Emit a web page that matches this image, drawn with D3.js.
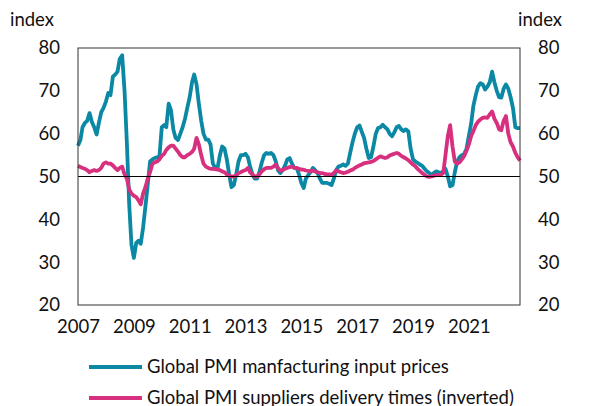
<!DOCTYPE html>
<meta charset="utf-8" />
<script src="https://d3js.org/d3.v7.js"></script>
<style>
	body { margin: 0; background: #fff; }
	text { font-family: Lato, "DejaVu Sans", sans-serif; fill: #111; }
</style>
<div id="chart"></div>
<script>
	// Monthly values, Jan 2007 .. Nov 2022
	const inputPrices = [
		57.2, 58.5, 61.5, 62.5, 63.0, 64.8, 62.8, 61.5, 59.8, 62.5, 65.0, 66.0, // 2007
		67.5, 69.5, 69.0, 73.3, 73.8, 74.5, 77.5, 78.3, 70.0, 58.0, 43.5, 34.0, // 2008
		31.0, 34.5, 35.0, 34.3, 38.0, 43.0, 48.0, 53.5, 54.0, 54.3, 54.5, 54.5, // 2009
		61.5, 62.0, 61.5, 67.0, 65.5, 61.0, 59.0, 58.5, 60.0, 61.5, 63.5, 66.0, // 2010
		68.5, 72.0, 73.8, 71.5, 67.0, 63.0, 60.0, 58.6, 58.6, 57.5, 53.0, 52.0, // 2011
		52.0, 55.0, 57.0, 56.5, 54.0, 50.5, 47.5, 48.0, 50.5, 53.5, 55.0, 55.0, // 2012
		55.3, 54.5, 52.4, 50.5, 49.5, 49.5, 51.0, 53.2, 55.0, 55.5, 55.3, 55.5, // 2013
		55.0, 53.5, 51.5, 50.8, 51.5, 52.5, 54.0, 54.3, 53.0, 52.0, 52.0, 50.5, // 2014
		48.5, 47.3, 49.5, 50.3, 51.0, 52.0, 51.5, 50.8, 49.5, 48.5, 48.5, 48.5, // 2015
		48.3, 48.0, 49.5, 51.5, 52.3, 52.5, 52.8, 52.5, 53.0, 55.5, 58.0, 60.0, // 2016
		61.5, 61.9, 60.5, 59.0, 56.5, 54.3, 54.5, 57.0, 60.0, 61.3, 61.5, 62.1, // 2017
		61.5, 61.0, 60.0, 59.4, 60.3, 61.5, 61.8, 61.0, 60.6, 61.0, 60.5, 56.5, // 2018
		54.0, 53.5, 53.2, 52.8, 52.5, 51.8, 51.2, 50.8, 50.4, 50.8, 51.2, 51.0, // 2019
		50.8, 51.2, 51.8, 50.0, 47.7, 48.0, 51.0, 53.5, 54.5, 55.0, 55.3, 56.5, // 2020
		59.5, 62.5, 66.5, 69.0, 71.0, 71.8, 71.5, 70.3, 71.0, 72.0, 74.5, 72.0, // 2021
		70.0, 68.5, 68.4, 70.5, 71.5, 70.5, 68.5, 66.0, 61.5, 61.3, 61.3        // 2022
	];
	const deliveryTimes = [
		52.5, 52.2, 52.0, 51.8, 51.5, 51.0, 51.3, 51.5, 51.3, 51.5, 52.0, 53.0, // 2007
		53.3, 53.0, 53.0, 52.6, 52.0, 51.5, 52.0, 52.3, 50.5, 49.5, 47.0, 46.0, // 2008
		45.5, 45.2, 44.5, 43.5, 46.0, 47.5, 49.5, 51.0, 53.0, 53.3, 53.5, 54.0, // 2009
		54.8, 55.3, 56.2, 56.8, 57.2, 57.2, 56.5, 55.8, 55.0, 54.5, 54.5, 55.0, // 2010
		55.3, 55.7, 56.5, 59.0, 57.5, 55.0, 53.0, 52.3, 52.0, 51.8, 51.8, 51.7, // 2011
		51.6, 51.5, 51.2, 51.0, 50.5, 50.2, 50.0, 50.0, 50.2, 50.8, 51.0, 51.3, // 2012
		51.5, 52.0, 51.0, 50.5, 50.0, 50.0, 50.5, 51.2, 51.7, 52.0, 52.0, 52.0, // 2013
		52.3, 52.8, 52.0, 51.3, 51.5, 51.8, 52.0, 52.2, 52.3, 52.0, 52.0, 51.8, // 2014
		51.6, 51.6, 51.4, 51.3, 51.2, 51.4, 51.2, 51.0, 50.8, 50.8, 50.6, 50.5, // 2015
		50.5, 50.4, 50.8, 51.4, 51.2, 51.0, 50.8, 50.9, 51.1, 51.4, 51.6, 52.0, // 2016
		52.3, 52.6, 52.8, 53.1, 53.2, 53.3, 53.4, 53.6, 54.0, 54.4, 54.7, 54.5, // 2017
		54.3, 54.5, 54.9, 55.1, 55.3, 55.5, 55.3, 54.8, 54.5, 54.2, 53.8, 53.3, // 2018
		52.8, 52.4, 51.8, 51.3, 50.8, 50.4, 50.0, 49.9, 50.0, 50.2, 50.3, 50.4, // 2019
		50.4, 50.8, 55.0, 59.5, 62.0, 57.0, 53.5, 53.0, 53.3, 54.0, 54.8, 56.0, // 2020
		57.5, 59.5, 60.6, 62.0, 62.8, 63.3, 63.7, 63.8, 63.7, 64.5, 65.2, 63.5, // 2021
		62.5, 61.0, 60.8, 63.0, 64.1, 60.0, 58.0, 57.0, 55.5, 54.5, 53.7        // 2022
	];
	const yTicks = [20, 30, 40, 50, 60, 70, 80];
	const xTickYears = [2007, 2009, 2011, 2013, 2015, 2017, 2019, 2021];
	const seriesNames = [
		"Global PMI manfacturing input prices",
		"Global PMI suppliers delivery times (inverted)"
	];
	const seriesColors = ["#0a88a4", "#d6307f"];

	const W = 592, H = 406;
	const margin = { top: 48, right: 72, bottom: 101, left: 78 };
	const width = W - margin.left - margin.right;
	const height = H - margin.top - margin.bottom;
	const fs = "18.5px";

	const dates = inputPrices.map((d, i) => new Date(2007, i, 1));

	const svg = d3.select("#chart").append("svg")
		.attr("width", W)
		.attr("height", H);

	const g = svg.append("g")
		.attr("transform", "translate(" + margin.left + "," + margin.top + ")");

	const x = d3.scaleTime()
		.domain([dates[0], dates[dates.length - 1]])
		.range([0, width]);
	const y = d3.scaleLinear().domain([20, 80]).range([height, 0]);

	// axes (labels only, no tick lines)
	const yLeft = d3.axisLeft(y).tickValues(yTicks).tickSize(0).tickPadding(18);
	const yRight = d3.axisRight(y).tickValues(yTicks).tickSize(0).tickPadding(18);
	const xAxis = d3.axisBottom(x)
		.tickValues(xTickYears.map(yr => new Date(yr, 0, 1)))
		.tickFormat(d3.timeFormat("%Y"))
		.tickSize(0).tickPadding(15);

	g.append("g").call(yLeft)
		.call(a => a.select(".domain").remove())
		.selectAll("text").style("font-size", fs).style("font-family", "Lato");
	g.append("g").attr("transform", "translate(" + width + ",0)").call(yRight)
		.call(a => a.select(".domain").remove())
		.selectAll("text").style("font-size", fs).style("font-family", "Lato");
	g.append("g").attr("transform", "translate(0," + height + ")").call(xAxis)
		.call(a => a.select(".domain").remove())
		.selectAll("text").style("font-size", fs).style("font-family", "Lato");

	// unit labels
	svg.append("text").attr("x", 10).attr("y", 26)
		.style("font-size", fs).text("index");
	svg.append("text").attr("x", 562).attr("y", 26)
		.attr("text-anchor", "end")
		.style("font-size", fs).text("index");

	// lines
	const line = d3.line()
		.x((d, i) => x(dates[i]))
		.y(d => y(d));

	[inputPrices, deliveryTimes].forEach((s, k) => {
		g.append("path")
			.datum(s)
			.attr("fill", "none")
			.attr("stroke", seriesColors[k])
			.attr("stroke-width", 3.8)
			.attr("stroke-linejoin", "round")
			.attr("d", line);
	});

	// 50 line
	g.append("line")
		.attr("x1", 0).attr("x2", width)
		.attr("y1", y(50)).attr("y2", y(50))
		.attr("stroke", "#000").attr("stroke-width", 1);

	// frame
	g.append("rect")
		.attr("width", width).attr("height", height)
		.attr("fill", "none")
		.attr("stroke", "#333").attr("stroke-width", 1);

	// legend
	const legend = svg.selectAll(".legend")
		.data(seriesNames)
		.enter().append("g")
		.attr("class", "legend")
		.attr("transform", (d, i) => "translate(89," + (367 + i * 31) + ")");

	legend.append("line")
		.attr("x1", 0).attr("x2", 53)
		.attr("stroke", (d, i) => seriesColors[i])
		.attr("stroke-width", 4);

	legend.append("text")
		.attr("x", 58).attr("dy", "0.35em")
		.style("font-size", fs)
		.text(d => d);
</script>
